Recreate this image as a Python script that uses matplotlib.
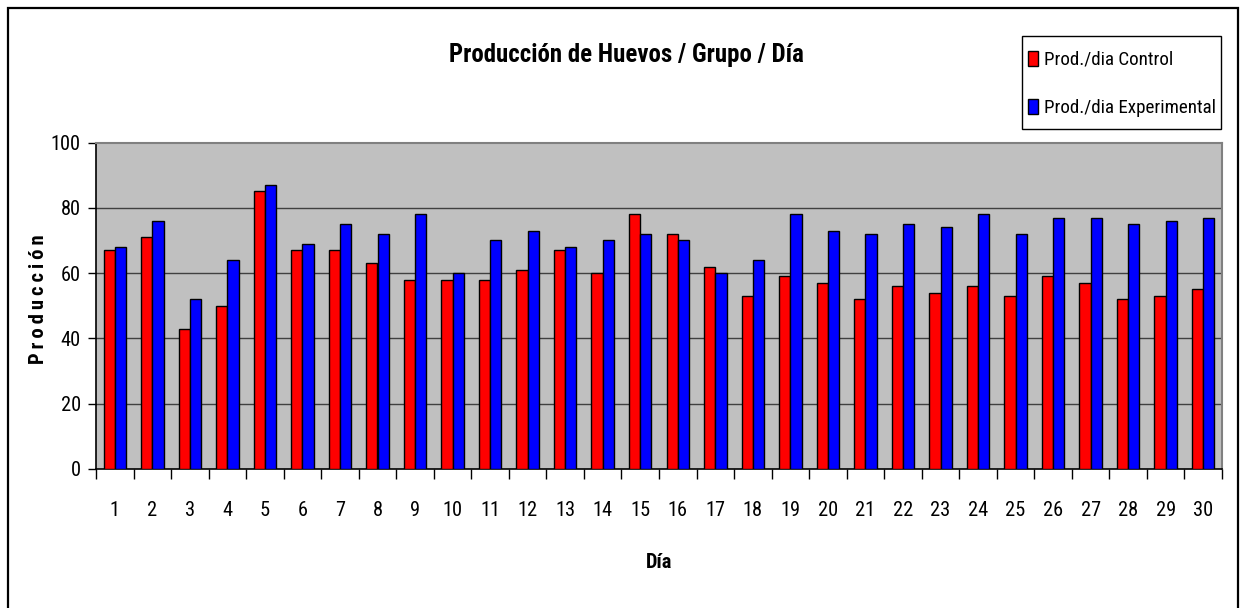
import matplotlib
matplotlib.use("Agg")
import matplotlib.pyplot as plt
import numpy as np
from matplotlib import font_manager as fm
from matplotlib.patches import Rectangle, Patch
from matplotlib.ticker import FixedLocator, NullFormatter

# pick a narrow font if one is installed
_names = {f.name for f in fm.fontManager.ttflist}
scale = 1.0
family = ['Liberation Sans', 'DejaVu Sans']
for cand in ['Liberation Sans Narrow', 'Arial Narrow', 'Roboto Condensed']:
    if cand in _names:
        family = [cand, 'Liberation Sans', 'DejaVu Sans']
        scale = 1.2
        break
plt.rcParams['font.family'] = family

days = [str(d) for d in range(1, 31)]
control = [67, 71, 43, 50, 85, 67, 67, 63, 58, 58,
           58, 61, 67, 60, 78, 72, 62, 53, 59, 57,
           52, 56, 54, 56, 53, 59, 57, 52, 53, 55]
experimental = [68, 76, 52, 64, 87, 69, 75, 72, 78, 60,
                70, 73, 68, 70, 72, 70, 60, 64, 78, 73,
                72, 75, 74, 78, 72, 77, 77, 75, 76, 77]
yticks = [0, 20, 40, 60, 80, 100]

W, H = 1242, 608
fig = plt.figure(figsize=(W / 100, H / 100), dpi=100)
fig.patch.set_facecolor('white')

left, right, top, bottom = 96, 1222, 142.5, 469
ax = fig.add_axes([left / W, 1 - bottom / H, (right - left) / W, (bottom - top) / H])
ax.set_facecolor('#C0C0C0')

x = np.arange(len(days))
bw = 0.30
ax.bar(x - bw / 2, control, bw, color='#FF0000', edgecolor='black', linewidth=1.0,
       label='Prod./dia Control', zorder=3)
ax.bar(x + bw / 2, experimental, bw, color='#0000FF', edgecolor='black', linewidth=1.0,
       label='Prod./dia Experimental', zorder=3)

ax.set_xlim(-0.5, len(days) - 0.5)
ax.set_ylim(0, 100)
ax.set_yticks(yticks)
ax.set_yticklabels([str(v) for v in yticks], fontsize=12.2 * scale)
for yv in yticks[1:-1]:
    ax.axhline(yv, color='#404040', linewidth=1.0, zorder=1)

# x ticks: major at category boundaries, labels at centres
ax.xaxis.set_major_locator(FixedLocator(np.arange(-0.5, len(days), 1.0)))
ax.xaxis.set_major_formatter(NullFormatter())
ax.xaxis.set_minor_locator(FixedLocator(x))
ax.set_xticklabels(days, minor=True, fontsize=12.2 * scale)
ax.tick_params(axis='x', which='major', direction='out', length=7, width=1, color='black')
ax.tick_params(axis='x', which='minor', length=0, pad=23)
ax.tick_params(axis='y', direction='out', length=6, width=1, pad=5, color='black')

for s in ['top', 'right']:
    ax.spines[s].set_color('#808080')
    ax.spines[s].set_linewidth(1.5)
for s in ['left', 'bottom']:
    ax.spines[s].set_color('black')
    ax.spines[s].set_linewidth(1.2)

fig.text(626 / W, 1 - 55 / H, 'Producción de Huevos / Grupo / Día', ha='center', va='center',
         fontsize=14.9 * scale, fontweight='bold')
fig.text(659 / W, 1 - 562 / H, 'Día', ha='center', va='center', fontsize=12.2 * scale,
         fontweight='bold')
fig.text(39 / W, 1 - 299 / H, 'P\u2009r\u2009o\u2009d\u2009u\u2009c\u2009c\u2009i\u2009ó\u2009n',
         ha='center', va='center', rotation=90, fontsize=12.4 * scale, fontweight='bold')

# legend: entries without frame, frame drawn as figure box
handles = [Patch(facecolor='#FF0000', edgecolor='black', linewidth=1.0),
           Patch(facecolor='#0000FF', edgecolor='black', linewidth=1.0)]
leg_fs = 11.4 * scale
leg = fig.legend(handles, ['Prod./dia Control', 'Prod./dia Experimental'],
                 loc='center left', bbox_to_anchor=(1028 / W, 1 - 84 / H),
                 fontsize=leg_fs, frameon=False,
                 handlelength=0.5, handleheight=0.85, handletextpad=0.35,
                 labelspacing=1.6, borderpad=0.0, borderaxespad=0)
fig.patches.append(Rectangle((1022 / W, 1 - 129 / H), (1221 - 1022) / W, (129 - 36) / H,
                             transform=fig.transFigure, fill=True, facecolor='white',
                             edgecolor='black', linewidth=1.0, zorder=0))

fig.patches.append(Rectangle((8 / W, -0.1), (1238 - 8) / W, 1.1 - 8 / H,
                             transform=fig.transFigure, fill=False,
                             edgecolor='black', linewidth=1.6))

fig.savefig('out.png', dpi=100)
